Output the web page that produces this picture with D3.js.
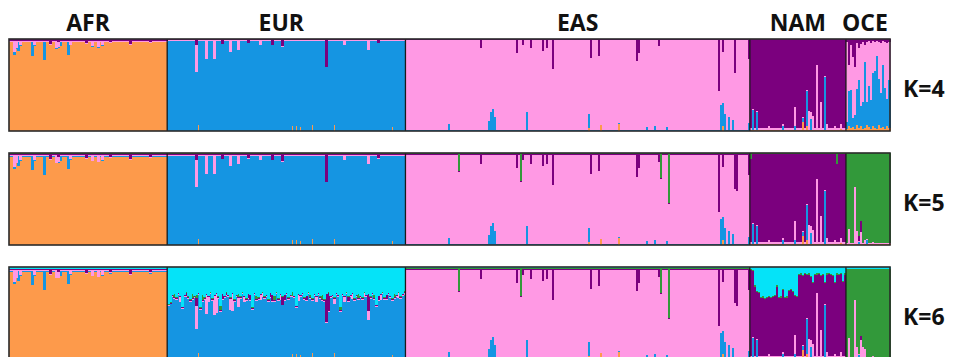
<!DOCTYPE html>
<html>
<head>
<meta charset="utf-8">
<script src="https://cdn.jsdelivr.net/npm/d3@7"></script>
<style>
  body { margin: 0; background: #fff; }
  svg { display: block; }
  text { font-family: "Open Sans", "DejaVu Sans", sans-serif; font-weight: 700; fill: #111; }
</style>
</head>
<body>
<svg id="chart" width="954" height="357"></svg>
<script>
// populations and sample counts (one bar per individual)
const groups = ["AFR", "EUR", "EAS", "NAM", "OCE"];
const groupSizes = [79, 119, 172, 48, 22];

// ancestry clusters, stacked bottom -> top
const clusters = ["orange", "blue", "pink", "purple", "green", "cyan"];
const clusterColors = ["#fd9a4b", "#1595e2", "#ff99e4", "#7b007e", "#32993a", "#05e3f8"];

const panelLabels = ["K=4", "K=5", "K=6"];

// main cluster of each population
const mainK4 = ["orange", "blue", "pink", "purple", "pink"];
const mainK5 = ["orange", "blue", "pink", "purple", "green"];
const mainK6 = ["orange", "blue", "pink", "purple", "green"];

// small background share every individual carries
const fringeK4 = [
  {purple: 0.02, pink: 0.01, blue: 0.005},
  {purple: 0.016, pink: 0.008, orange: 0.005},
  {purple: 0.012, blue: 0.01, orange: 0.004},
  {pink: 0.014, orange: 0.008, blue: 0.006},
  {}
];
const fringeK5 = [
  {purple: 0.015, pink: 0.01, blue: 0.005, green: 0.012},
  {purple: 0.012, pink: 0.008, orange: 0.005, green: 0.012},
  {purple: 0.01, blue: 0.01, orange: 0.004, green: 0.016},
  {pink: 0.014, orange: 0.008, blue: 0.006, green: 0.014},
  {pink: 0.012, orange: 0.006}
];
const fringeK6 = [
  {purple: 0.012, pink: 0.01, blue: 0.005, green: 0.008, cyan: 0.018},
  {purple: 0.01, pink: 0.008, orange: 0.005, green: 0.008},
  {purple: 0.01, blue: 0.01, orange: 0.004, green: 0.012, cyan: 0.014},
  {pink: 0.014, orange: 0.008, blue: 0.006, green: 0.012},
  {pink: 0.012, orange: 0.006, cyan: 0.022}
];

// admixed individuals seen in every K: [population, index, minor shares]
const commonAdmix = [
  ["AFR", 2, {pink: 0.12, blue: 0.03}], ["AFR", 3, {pink: 0.08}], ["AFR", 4, {blue: 0.1}],
  ["AFR", 5, {pink: 0.05}], ["AFR", 11, {blue: 0.15}], ["AFR", 12, {pink: 0.05}],
  ["AFR", 17, {blue: 0.2}], ["AFR", 20, {purple: 0.05}], ["AFR", 23, {pink: 0.08}],
  ["AFR", 24, {pink: 0.06, purple: 0.03}], ["AFR", 25, {blue: 0.05}], ["AFR", 29, {blue: 0.14}],
  ["AFR", 30, {pink: 0.04}], ["AFR", 38, {purple: 0.04}], ["AFR", 41, {pink: 0.06}],
  ["AFR", 44, {pink: 0.07}], ["AFR", 46, {pink: 0.05}], ["AFR", 50, {purple: 0.03}],
  ["AFR", 60, {purple: 0.05}], ["AFR", 70, {purple: 0.03}],

  ["EUR", 14, {pink: 0.3, purple: 0.06}], ["EUR", 15, {orange: 0.07}], ["EUR", 19, {pink: 0.2}],
  ["EUR", 23, {pink: 0.2}], ["EUR", 27, {purple: 0.05}], ["EUR", 31, {pink: 0.12}],
  ["EUR", 35, {pink: 0.1}], ["EUR", 40, {purple: 0.04}], ["EUR", 46, {pink: 0.05}],
  ["EUR", 52, {purple: 0.06}], ["EUR", 57, {purple: 0.08}], ["EUR", 62, {orange: 0.05}],
  ["EUR", 64, {orange: 0.05}], ["EUR", 66, {orange: 0.04}], ["EUR", 72, {orange: 0.06}],
  ["EUR", 79, {purple: 0.3}], ["EUR", 83, {orange: 0.06}], ["EUR", 88, {pink: 0.05}],
  ["EUR", 100, {pink: 0.1}], ["EUR", 105, {purple: 0.04}], ["EUR", 112, {orange: 0.04}],

  ["EAS", 21, {blue: 0.07}], ["EAS", 37, {purple: 0.1}], ["EAS", 41, {blue: 0.1}],
  ["EAS", 42, {blue: 0.2}], ["EAS", 43, {blue: 0.24}], ["EAS", 44, {blue: 0.15}],
  ["EAS", 55, {purple: 0.15}], ["EAS", 58, {purple: 0.06}], ["EAS", 60, {blue: 0.2}],
  ["EAS", 62, {purple: 0.1}], ["EAS", 68, {purple: 0.13}], ["EAS", 70, {purple: 0.1}],
  ["EAS", 73, {purple: 0.33}], ["EAS", 91, {blue: 0.15, orange: 0.03}], ["EAS", 92, {purple: 0.21}],
  ["EAS", 96, {purple: 0.18}], ["EAS", 97, {orange: 0.06}], ["EAS", 106, {orange: 0.08}],
  ["EAS", 115, {purple: 0.24}], ["EAS", 116, {purple: 0.15}], ["EAS", 120, {blue: 0.04}],
  ["EAS", 124, {blue: 0.05}], ["EAS", 126, {purple: 0.08}], ["EAS", 130, {blue: 0.04}],
  ["EAS", 156, {purple: 0.57}], ["EAS", 157, {blue: 0.28}],
  ["EAS", 158, {blue: 0.25, orange: 0.05, purple: 0.14}], ["EAS", 159, {blue: 0.18}],
  ["EAS", 161, {blue: 0.15}], ["EAS", 163, {blue: 0.12}], ["EAS", 164, {purple: 0.37}],
  ["EAS", 171, {purple: 0.22, blue: 0.08}],

  ["NAM", 1, {blue: 0.22}], ["NAM", 3, {blue: 0.2}], ["NAM", 9, {pink: 0.04}],
  ["NAM", 16, {blue: 0.05}], ["NAM", 22, {pink: 0.2, blue: 0.05}],
  ["NAM", 26, {orange: 0.1, blue: 0.04}], ["NAM", 28, {blue: 0.38, orange: 0.05}],
  ["NAM", 29, {pink: 0.2}], ["NAM", 30, {blue: 0.12, pink: 0.08}], ["NAM", 31, {pink: 0.15}],
  ["NAM", 33, {pink: 0.7}], ["NAM", 35, {pink: 0.3}], ["NAM", 37, {blue: 0.58}],
  ["NAM", 38, {pink: 0.06}], ["NAM", 42, {pink: 0.04}], ["NAM", 45, {pink: 0.05, orange: 0.02}]
];

const admixK4 = [];
const admixK5 = [
  ["EAS", 26, {green: 0.2}], ["EAS", 57, {green: 0.3}],
  ["EAS", 127, {green: 0.27}], ["EAS", 131, {green: 0.54}],
  ["EAS", 156, {purple: 0.62}], ["EAS", 165, {purple: 0.4}],
  ["NAM", 43, {green: 0.12}], ["NAM", 0, {green: 0.06}],
  ["OCE", 1, {pink: 0.17}], ["OCE", 4, {pink: 0.62}], ["OCE", 5, {pink: 0.15}],
  ["OCE", 6, {purple: 0.05, blue: 0.03}], ["OCE", 7, {purple: 0.12, pink: 0.14}],
  ["OCE", 9, {pink: 0.05}], ["OCE", 10, {blue: 0.05}], ["OCE", 13, {pink: 0.03}]
];
const admixK6 = [
  ["EUR", 3, {green: 0.04}], ["EUR", 6, {pink: 0.05}], ["EUR", 9, {purple: 0.04}],
  ["EUR", 12, {green: 0.05}], ["EUR", 14, {pink: 0.25, purple: 0.08, green: 0.04}],
  ["EUR", 17, {green: 0.06}], ["EUR", 20, {pink: 0.05}], ["EUR", 24, {pink: 0.2}],
  ["EUR", 26, {green: 0.05}], ["EUR", 29, {purple: 0.03}], ["EUR", 32, {pink: 0.18}],
  ["EUR", 35, {green: 0.04}], ["EUR", 38, {pink: 0.05}], ["EUR", 41, {purple: 0.05}],
  ["EUR", 44, {green: 0.04}], ["EUR", 47, {pink: 0.04}], ["EUR", 51, {purple: 0.04}],
  ["EUR", 53, {green: 0.05}], ["EUR", 56, {pink: 0.05}], ["EUR", 58, {purple: 0.05}],
  ["EUR", 62, {green: 0.04}], ["EUR", 65, {pink: 0.06}], ["EUR", 69, {purple: 0.04}],
  ["EUR", 71, {green: 0.03}], ["EUR", 74, {pink: 0.05}], ["EUR", 77, {green: 0.05}],
  ["EUR", 80, {purple: 0.2}], ["EUR", 83, {pink: 0.05}], ["EUR", 86, {green: 0.04}],
  ["EUR", 90, {purple: 0.04}], ["EUR", 92, {pink: 0.05}], ["EUR", 95, {green: 0.05}],
  ["EUR", 98, {pink: 0.04}], ["EUR", 100, {purple: 0.18}], ["EUR", 103, {green: 0.04}],
  ["EUR", 106, {pink: 0.05}], ["EUR", 109, {purple: 0.04}], ["EUR", 113, {green: 0.04}],
  ["EUR", 115, {pink: 0.05}], ["EUR", 118, {pink: 0.03}],
  ["EAS", 26, {green: 0.25}], ["EAS", 57, {green: 0.3}],
  ["EAS", 127, {green: 0.27}], ["EAS", 131, {green: 0.54}],
  ["EAS", 156, {purple: 0.62}], ["EAS", 165, {purple: 0.4}],
  ["OCE", 1, {pink: 0.22}], ["OCE", 4, {pink: 0.64}], ["OCE", 5, {pink: 0.12}],
  ["OCE", 7, {pink: 0.2, purple: 0.04}], ["OCE", 8, {pink: 0.12}],
  ["OCE", 9, {pink: 0.1}], ["OCE", 6, {blue: 0.04}], ["OCE", 13, {pink: 0.03}]
];

// OCE at K=4: mostly pink with heavy blue share
const oceK4Blue = [0.08, 0.38, 0.42, 0.1, 0.15, 0.4, 0.52, 0.22, 0.3, 0.72, 0.25,
                   0.45, 0.32, 0.58, 0.62, 0.8, 0.5, 0.38, 0.68, 0.45, 0.3, 0.52];
const oceK4Purple = [0.03, 0.28, 0.06, 0.2, 0.3, 0.04, 0.1, 0.05, 0.03, 0.06, 0.03,
                     0.02, 0.04, 0.02, 0.03, 0.02, 0.03, 0.04, 0.02, 0.03, 0.04, 0.03];
const oceK4Orange = [0.02, 0.05, 0.03, 0.04, 0.02, 0.06, 0.03, 0.05, 0.02, 0.03, 0.07,
                     0.04, 0.02, 0.05, 0.03, 0.02, 0.06, 0.03, 0.04, 0.02, 0.05, 0.03];

// cyan share at K=6 for EUR and NAM individuals
const eurCyanK6 = [
  0.40, 0.38, 0.30, 0.29, 0.33, 0.28, 0.31, 0.43, 0.30, 0.27,
  0.32, 0.35, 0.29, 0.31, 0.30, 0.28, 0.44, 0.30, 0.33, 0.29,
  0.31, 0.27, 0.34, 0.30, 0.28, 0.32, 0.42, 0.29, 0.31, 0.27,
  0.30, 0.33, 0.28, 0.35, 0.30, 0.29, 0.32, 0.27, 0.31, 0.34,
  0.29, 0.30, 0.44, 0.28, 0.31, 0.33, 0.29, 0.27, 0.32, 0.30,
  0.35, 0.28, 0.30, 0.31, 0.27, 0.34, 0.29, 0.32, 0.30, 0.28,
  0.33, 0.30, 0.27, 0.31, 0.42, 0.29, 0.30, 0.28, 0.33, 0.31,
  0.27, 0.30, 0.34, 0.29, 0.31, 0.28, 0.32, 0.30, 0.35, 0.29,
  0.27, 0.31, 0.30, 0.33, 0.28, 0.30, 0.43, 0.29, 0.31, 0.27,
  0.32, 0.30, 0.28, 0.34, 0.30, 0.29, 0.31, 0.33, 0.27, 0.30,
  0.29, 0.32, 0.28, 0.30, 0.41, 0.31, 0.29, 0.27, 0.33, 0.30,
  0.28, 0.31, 0.34, 0.29, 0.30, 0.27, 0.32, 0.29, 0.26
];
const namCyanK6 = [
  0.02, 0.03, 0.2, 0.26, 0.27, 0.33, 0.32, 0.34, 0.33, 0.31,
  0.33, 0.31, 0.3, 0.2, 0.33, 0.32, 0.24, 0.33, 0.32, 0.25,
  0.24, 0.26, 0.3, 0.31, 0.08, 0.07, 0.09, 0.06, 0.08, 0.07,
  0.1, 0.16, 0.08, 0.07, 0.06, 0.09, 0.08, 0.16, 0.07, 0.06,
  0.08, 0.09, 0.16, 0.07, 0.08, 0.06, 0.15, 0.07
];

const panels = [
  {label: panelLabels[0], k: 4, main: mainK4, fringe: fringeK4, admix: admixK4,
   series: [["OCE", "blue", oceK4Blue], ["OCE", "purple", oceK4Purple], ["OCE", "orange", oceK4Orange]]},
  {label: panelLabels[1], k: 5, main: mainK5, fringe: fringeK5, admix: admixK5, series: []},
  {label: panelLabels[2], k: 6, main: mainK6, fringe: fringeK6, admix: admixK6,
   series: [["EUR", "cyan", eurCyanK6], ["NAM", "cyan", namCyanK6]]}
];

const svg = d3.select("#chart");
const left = 9, right = 890;
const panelTops = [39, 153, 267];
const panelHeight = 92;

const ids = [];
groups.forEach((g, gi) => { for (let i = 0; i < groupSizes[gi]; i++) ids.push(g + "-" + i); });

const x = d3.scaleBand().domain(ids).range([left, right]).padding(0);
const color = d3.scaleOrdinal().domain(clusters).range(clusterColors);

function buildRows(p) {
  const keys = clusters.slice(0, p.k);
  const extra = new Map();
  commonAdmix.concat(p.admix).forEach(([g, i, shares]) => {
    const id = g + "-" + i;
    extra.set(id, Object.assign(extra.get(id) || {}, shares));
  });
  return ids.map(id => {
    const [g, idx] = id.split("-");
    const gi = groups.indexOf(g), i = +idx;
    const minor = Object.assign({}, p.fringe[gi]);
    p.series.filter(s => s[0] === g).forEach(s => { minor[s[1]] = s[2][i]; });
    Object.assign(minor, extra.get(id) || {});
    const main = p.main[gi];
    const row = {id: id};
    let sum = 0;
    keys.forEach(k => {
      if (k === main) return;
      row[k] = minor[k] || 0;
      sum += row[k];
    });
    row[main] = Math.max(0, 1 - sum);
    return row;
  });
}

panels.forEach((p, pi) => {
  const top = panelTops[pi];
  const y = d3.scaleLinear().domain([0, 1]).range([top + panelHeight, top]);
  const keys = clusters.slice(0, p.k);
  const stacked = d3.stack().keys(keys)(buildRows(p));

  const g = svg.append("g");
  g.selectAll("g.layer")
    .data(stacked)
    .join("g")
    .attr("class", "layer")
    .attr("fill", d => color(d.key))
    .attr("shape-rendering", "crispEdges")
    .selectAll("rect")
    .data(d => d.filter(v => v[1] - v[0] > 0.0001))
    .join("rect")
    .attr("x", d => x(d.data.id))
    .attr("y", d => y(d[1]))
    .attr("width", x.bandwidth() + 0.5)
    .attr("height", d => y(d[0]) - y(d[1]));

  // population separators
  let start = 0;
  groupSizes.slice(0, -1).forEach((n) => {
    start += n;
    const sx = x(ids[start]);
    g.append("line")
      .attr("x1", sx).attr("x2", sx)
      .attr("y1", top).attr("y2", top + panelHeight)
      .attr("stroke", "#1a1a1a").attr("stroke-width", 1.3);
  });

  g.append("rect")
    .attr("x", left).attr("y", top)
    .attr("width", right - left).attr("height", panelHeight)
    .attr("fill", "none")
    .attr("stroke", "#2a2a2a").attr("stroke-width", 1.6);

  svg.append("text")
    .attr("x", 903).attr("y", top + 58)
    .attr("font-size", 23)
    .text(p.label);
});

// population labels above the first panel
let acc = 0;
groups.forEach((gname, gi) => {
  const x0 = x(ids[acc]);
  acc += groupSizes[gi];
  const x1 = acc < ids.length ? x(ids[acc]) : right;
  svg.append("text")
    .attr("x", (x0 + x1) / 2 + (gname === "EUR" ? -5 : 0) + (gname === "OCE" ? -3 : 0))
    .attr("y", 31)
    .attr("text-anchor", "middle")
    .attr("font-size", 23)
    .text(gname);
});
</script>
</body>
</html>
